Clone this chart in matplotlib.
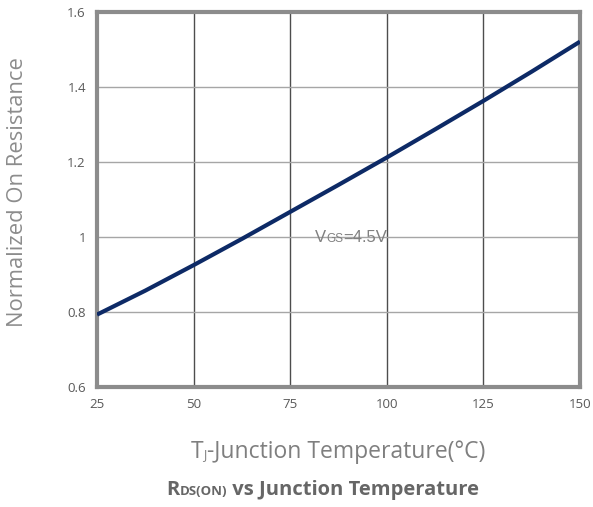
import matplotlib.pyplot as plt
import numpy as np

# junction temperature (°C) and normalized Rds(on)
temp_c = [25, 37.5, 50, 62.5, 75, 87.5, 100, 112.5, 125, 137.5, 150]
r_norm = [0.793, 0.857, 0.925, 0.995, 1.067, 1.139, 1.212, 1.287, 1.363, 1.441, 1.521]

x_ticks = [25, 50, 75, 100, 125, 150]
y_ticks = [0.6, 0.8, 1.0, 1.2, 1.4, 1.6]
y_tick_labels = ["0.6", "0.8", "1", "1.2", "1.4", "1.6"]

plt.rcParams['font.family'] = ['Open Sans', 'DejaVu Sans']

fig = plt.figure(figsize=(5.93, 5.07), dpi=100)
ax = fig.add_axes([97 / 593, 120 / 507, 483 / 593, 375 / 507])

ax.plot(temp_c, r_norm, color='#0d2a66', lw=3, solid_capstyle='butt', zorder=3)

ax.set_xlim(25, 150)
ax.set_ylim(0.6, 1.6)
ax.set_xticks(x_ticks)
ax.set_yticks(y_ticks)
ax.set_yticklabels(y_tick_labels)
ax.tick_params(length=0, labelsize=9.5, labelcolor='#595959', pad=8)

# darker vertical grid, lighter horizontal grid
for x in x_ticks[1:-1]:
    ax.axvline(x, color='#4d4d4d', lw=1, zorder=1)
for y in y_ticks[1:-1]:
    ax.axhline(y, color='#a6a6a6', lw=1, zorder=1)

for s in ax.spines.values():
    s.set_color('#8c8c8c')
    s.set_linewidth(3)

fig.text(18 / 593, (507 - 192) / 507, "Normalized On Resistance", fontsize=15.8,
         color='#8c8c8c', rotation=90, ha='center', va='center')


def text_run(fig, pieces, x_center, y, **kw):
    # lay out text pieces left to right, centred on x_center (figure px)
    r = fig.canvas.get_renderer()
    objs = []
    for s, size, weight in pieces:
        t = fig.text(0, y / fig.bbox.height, s, fontsize=size, fontweight=weight,
                     va='baseline', **kw)
        objs.append(t)
    widths = [t.get_window_extent(r).width for t in objs]
    x = x_center - sum(widths) / 2
    for t, w in zip(objs, widths):
        t.set_x(x / fig.bbox.width)
        x += w


fig.canvas.draw()
# V_GS=4.5V label, just past the 75 grid line
xa, ya = ax.transData.transform((75, 1.0))
text_run(fig, [("V", 12, 'normal'), ("GS", 8.5, 'normal'), ("=4.5V", 12, 'normal')],
         351, ya - 5, color='#808080', family='Liberation Sans')

text_run(fig, [("T", 16.5, 'normal'), ("J", 9, 'normal'),
               ("-Junction Temperature(°C)", 16.5, 'normal')],
         338, 507 - 458, color='#7f7f7f')
text_run(fig, [("R", 14.5, 'bold'), ("DS(ON)", 9.5, 'bold'),
               (" vs Junction Temperature", 14.5, 'bold')],
         323, 507 - 495, color='#666666')

fig.savefig("out.png", dpi=100)
